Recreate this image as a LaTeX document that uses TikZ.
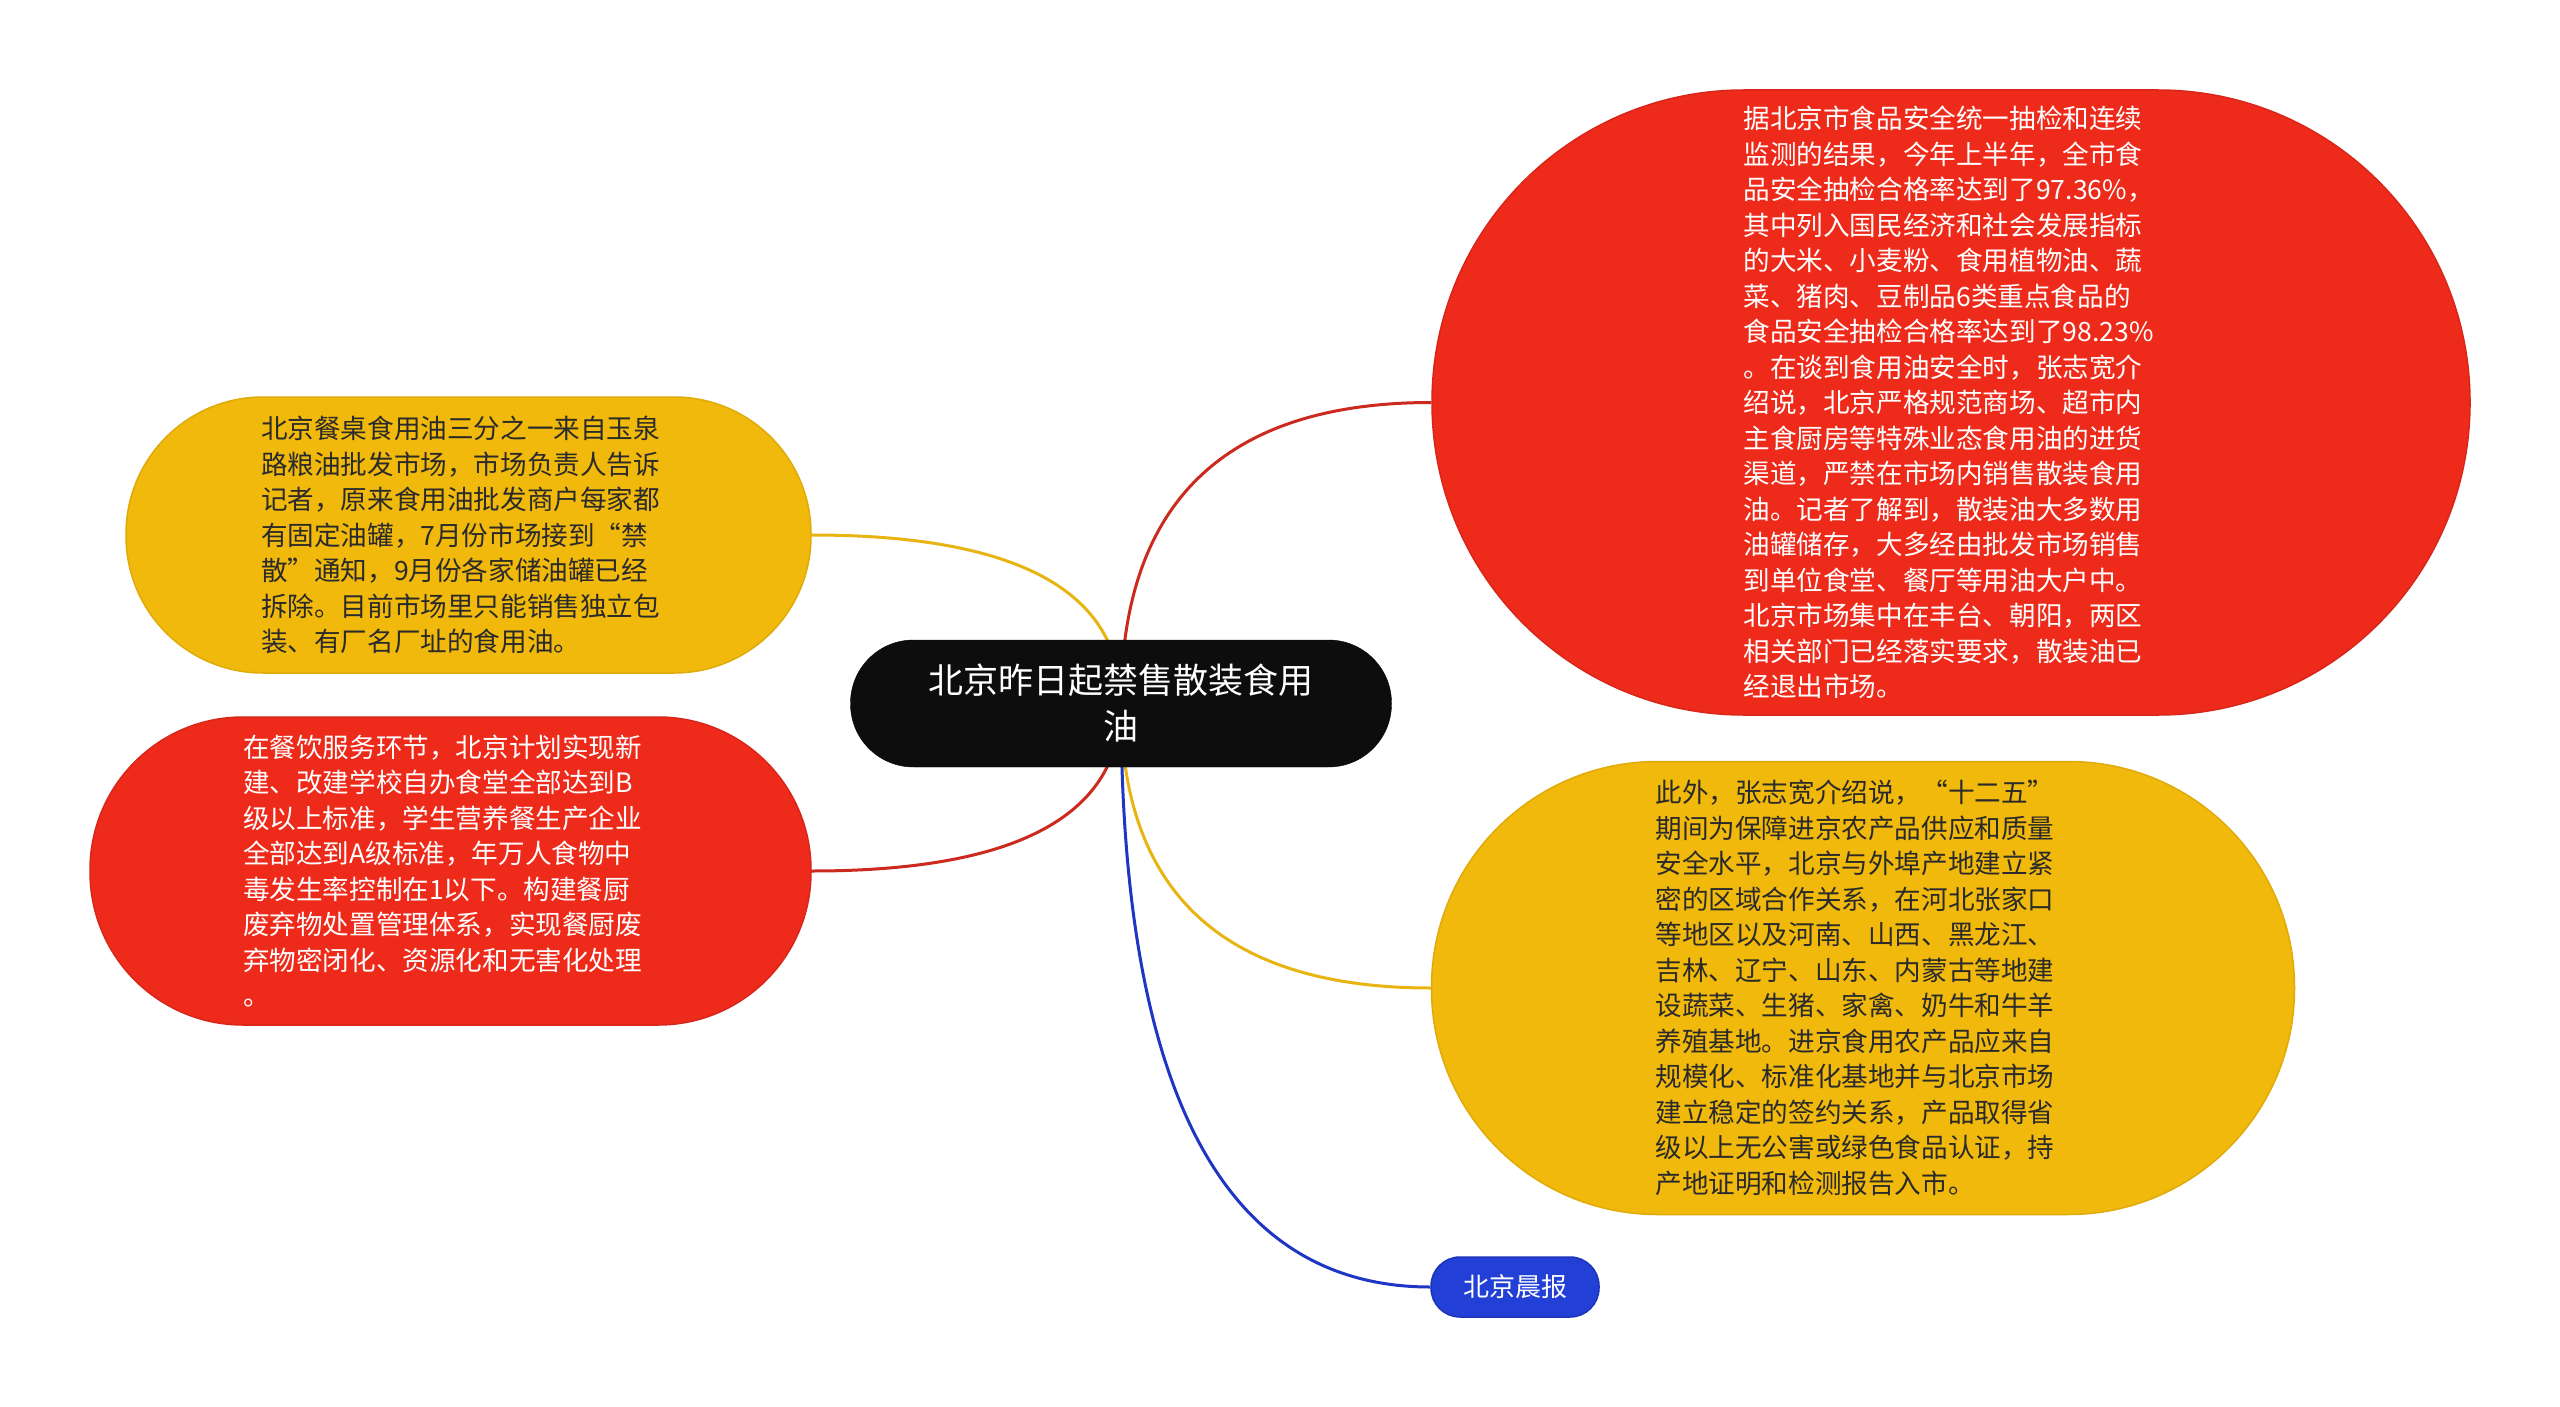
\documentclass[tikz,border=0pt]{standalone}
\usepackage{fontspec}
\setmainfont{Noto Sans CJK SC}
\usetikzlibrary{calc,backgrounds}
\definecolor{fillred}{HTML}{EE2A1A}
\definecolor{edgered}{HTML}{D8261A}
\definecolor{fillyel}{HTML}{F0B90C}
\definecolor{edgeyel}{HTML}{E0AA08}
\definecolor{fillblue}{HTML}{2340D6}
\definecolor{edgeblue}{HTML}{1C34B8}
\definecolor{linered}{HTML}{CC2A1E}
\definecolor{lineyel}{HTML}{E8B412}
\definecolor{lineblue}{HTML}{1F36C4}
\definecolor{darktext}{HTML}{2A2A2A}
\begin{document}
\begin{tikzpicture}[x=1pt,y=-1pt,
  bubble/.style={rectangle, inner sep=0pt, align=left, text width=415pt,
    line width=1.5pt, font=\fontsize{26.6}{35.5}\selectfont},
  redbubble/.style={bubble, fill=fillred, draw=edgered, text=white},
  yelbubble/.style={bubble, fill=fillyel, draw=edgeyel, text=darktext},
  rootbox/.style={rectangle, inner sep=0pt, align=center, fill=black!95, draw=black,
    text=white, font=\fontsize{35}{46}\selectfont},
  tagbox/.style={rectangle, inner sep=0pt, fill=fillblue, draw=edgeblue, line width=1.5pt,
    text=white, font=\fontsize{26}{32}\selectfont},
  link/.style={line width=3pt}
]
\useasboundingbox (0,0) rectangle (2560,1407);

\node[rootbox, minimum width=541pt, minimum height=127pt, rounded corners=63pt] (root) at (1121,703.5)
  {北京昨日起禁售散装食用\\油};

\node[redbubble, minimum width=1038pt, minimum height=625pt, rounded corners=312pt] (r1) at (1951,402.5)
  {据北京市食品安全统一抽检和连续\\
   监测的结果，今年上半年，全市食\\
   品安全抽检合格率达到了97.36\%，\\
   其中列入国民经济和社会发展指标\\
   的大米、小麦粉、食用植物油、蔬\\
   菜、猪肉、豆制品6类重点食品的\\
   食品安全抽检合格率达到了98.23\%\\
   。在谈到食用油安全时，张志宽介\\
   绍说，北京严格规范商场、超市内\\
   主食厨房等特殊业态食用油的进货\\
   渠道，严禁在市场内销售散装食用\\
   油。记者了解到，散装油大多数用\\
   油罐储存，大多经由批发市场销售\\
   到单位食堂、餐厅等用油大户中。\\
   北京市场集中在丰台、朝阳，两区\\
   相关部门已经落实要求，散装油已\\
   经退出市场。};

\node[yelbubble, minimum width=685pt, minimum height=276pt, rounded corners=137pt] (y1) at (468.5,535)
  {北京餐桌食用油三分之一来自玉泉\\
   路粮油批发市场，市场负责人告诉\\
   记者，原来食用油批发商户每家都\\
   有固定油罐，7月份市场接到“禁\\
   散”通知，9月份各家储油罐已经\\
   拆除。目前市场里只能销售独立包\\
   装、有厂名厂址的食用油。};

\node[redbubble, minimum width=721pt, minimum height=308pt, rounded corners=153pt] (r2) at (450.5,871)
  {在餐饮服务环节，北京计划实现新\\
   建、改建学校自办食堂全部达到B\\
   级以上标准，学生营养餐生产企业\\
   全部达到A级标准，年万人食物中\\
   毒发生率控制在1以下。构建餐厨\\
   废弃物处置管理体系，实现餐厨废\\
   弃物密闭化、资源化和无害化处理\\
   。};

\node[yelbubble, minimum width=863pt, minimum height=453pt, rounded corners=226pt] (y2) at (1863,988)
  {此外，张志宽介绍说，“十二五”\\
   期间为保障进京农产品供应和质量\\
   安全水平，北京与外埠产地建立紧\\
   密的区域合作关系，在河北张家口\\
   等地区以及河南、山西、黑龙江、\\
   吉林、辽宁、山东、内蒙古等地建\\
   设蔬菜、生猪、家禽、奶牛和牛羊\\
   养殖基地。进京食用农产品应来自\\
   规模化、标准化基地并与北京市场\\
   建立稳定的签约关系，产品取得省\\
   级以上无公害或绿色食品认证，持\\
   产地证明和检测报告入市。};

\node[tagbox, minimum width=168pt, minimum height=60pt, rounded corners=29pt] (tag) at (1515,1287)
  {北京晨报};

\coordinate (k1) at (root.center |- r1.west);
\coordinate (k2) at (root.center |- y1.east);
\coordinate (k3) at (root.center |- r2.east);
\coordinate (k4) at (root.center |- y2.west);
\coordinate (k5) at (root.center |- tag.west);

\begin{pgfonlayer}{background}
\fill[white] (0,0) rectangle (2560,1407);
\draw[link, linered] (root.center) .. controls ($(root.center)!2/3!(k1)$) and ($(r1.west)!2/3!(k1)$) .. (r1.west);
\draw[link, lineyel] (root.center) .. controls ($(root.center)!2/3!(k2)$) and ($(y1.east)!2/3!(k2)$) .. (y1.east);
\draw[link, linered] (root.center) .. controls ($(root.center)!2/3!(k3)$) and ($(r2.east)!2/3!(k3)$) .. (r2.east);
\draw[link, lineyel] (root.center) .. controls ($(root.center)!2/3!(k4)$) and ($(y2.west)!2/3!(k4)$) .. (y2.west);
\draw[link, lineblue] (root.center) .. controls ($(root.center)!2/3!(k5)$) and ($(tag.west)!2/3!(k5)$) .. (tag.west);
\end{pgfonlayer}
\end{tikzpicture}
\end{document}
